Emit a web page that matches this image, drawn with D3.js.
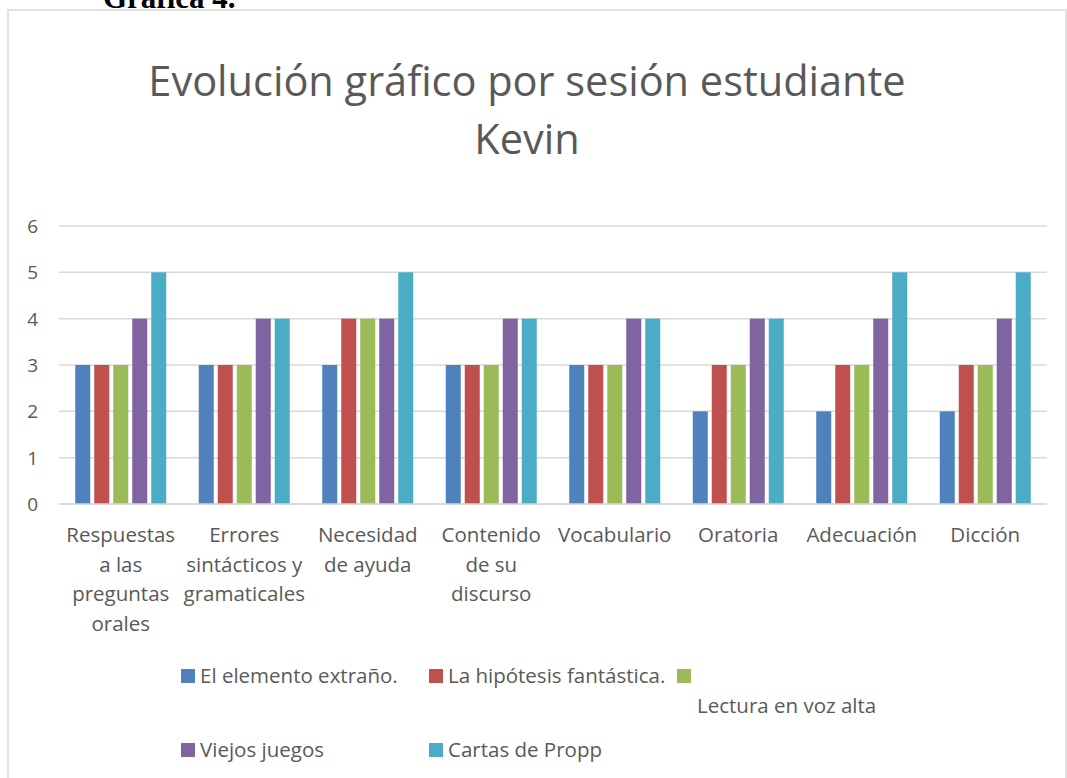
<!DOCTYPE html>
<html>
<head>
<meta charset="utf-8">
<script src="https://cdn.jsdelivr.net/npm/d3@7"></script>
<style>
  html, body { margin: 0; padding: 0; background: #fff; }
  svg { display: block; }
</style>
</head>
<body>
<svg id="chart" width="1067" height="778"></svg>
<script>
// ---- data ----
const categories = [
  "Respuestas a las preguntas orales",
  "Errores sintácticos y gramaticales",
  "Necesidad de ayuda",
  "Contenido de su discurso",
  "Vocabulario",
  "Oratoria",
  "Adecuación",
  "Dicción"
];
const categoryLines = [
  ["Respuestas", "a las", "preguntas", "orales"],
  ["Errores", "sintácticos y", "gramaticales"],
  ["Necesidad", "de ayuda"],
  ["Contenido", "de su", "discurso"],
  ["Vocabulario"],
  ["Oratoria"],
  ["Adecuación"],
  ["Dicción"]
];
const seriesNames = [
  "El elemento extraño.",
  "La hipótesis fantástica.",
  "Lectura en voz alta",
  "Viejos juegos",
  "Cartas de Propp"
];
const elementoExtrano   = [3, 3, 3, 3, 3, 2, 2, 2];
const hipotesisFantast  = [3, 3, 4, 3, 3, 3, 3, 3];
const lecturaVozAlta    = [3, 3, 4, 3, 3, 3, 3, 3];
const viejosJuegos      = [4, 4, 4, 4, 4, 4, 4, 4];
const cartasPropp       = [5, 4, 5, 4, 4, 4, 5, 5];
const yTicks = [0, 1, 2, 3, 4, 5, 6];
const titleLines = ["Evolución gráfico por sesión estudiante", "Kevin"];
const headingText = "Gráfica 4.";

const seriesValues = [elementoExtrano, hipotesisFantast, lecturaVozAlta, viejosJuegos, cartasPropp];
const colors = ["#4F81BD", "#C0504D", "#9BBB59", "#8064A2", "#4BACC6"];

// ---- layout ----
const svg = d3.select("#chart");
const font = "'Open Sans', 'Noto Sans', sans-serif";
const textColor = "#595959";
const gridColor = "#d9d9d9";

const plot = { left: 59, right: 1047, top: 226, bottom: 504 };

// heading (cut off at top, as in the source document)
svg.append("text")
  .attr("x", 103).attr("y", 8)
  .attr("font-family", "'Liberation Serif', 'Times New Roman', serif")
  .attr("font-weight", "bold")
  .attr("font-size", 31)
  .attr("fill", "#000")
  .text(headingText);

// chart border
svg.append("rect")
  .attr("x", 8).attr("y", 10)
  .attr("width", 1058).attr("height", 790)
  .attr("fill", "none")
  .attr("stroke", gridColor)
  .attr("stroke-width", 1.5);

// title
svg.append("g").selectAll("text")
  .data(titleLines)
  .join("text")
  .attr("x", 527)
  .attr("y", (d, i) => 96 + i * 58)
  .attr("text-anchor", "middle")
  .attr("font-family", font)
  .attr("font-size", 41.5)
  .attr("fill", textColor)
  .text(d => d);

// scales
const x0 = d3.scaleBand()
  .domain(categories)
  .range([plot.left, plot.right])
  .padding(0);

const x1 = d3.scaleBand()
  .domain(seriesNames)
  .range([0, x0.bandwidth()])
  .paddingInner(0.21)
  .paddingOuter(0.855);

const y = d3.scaleLinear()
  .domain([0, 6])
  .range([plot.bottom, plot.top]);

// gridlines
svg.append("g")
  .selectAll("line")
  .data(yTicks)
  .join("line")
  .attr("x1", plot.left).attr("x2", plot.right)
  .attr("y1", d => y(d)).attr("y2", d => y(d))
  .attr("stroke", gridColor)
  .attr("stroke-width", 1.5);

// y axis labels
const yAxis = d3.axisLeft(y).tickValues(yTicks).tickSize(0).tickPadding(0).tickFormat(d3.format("d"));
const yg = svg.append("g")
  .attr("transform", `translate(${plot.left - 21},0)`)
  .call(yAxis);
yg.select(".domain").remove();
yg.selectAll("text")
  .attr("font-family", font)
  .attr("font-size", 19)
  .attr("fill", textColor)
  .attr("dy", "0.35em");

// bars
const rows = categories.map((c, ci) => ({
  cat: c,
  vals: seriesNames.map((s, si) => ({ series: s, si, value: seriesValues[si][ci] }))
}));

svg.append("g")
  .selectAll("g")
  .data(rows)
  .join("g")
  .attr("transform", d => `translate(${x0(d.cat)},0)`)
  .selectAll("rect")
  .data(d => d.vals)
  .join("rect")
  .attr("x", d => x1(d.series))
  .attr("width", x1.bandwidth())
  .attr("y", d => y(d.value))
  .attr("height", d => y(0) - y(d.value))
  .attr("fill", d => colors[d.si]);

// x axis line
svg.append("line")
  .attr("x1", plot.left).attr("x2", plot.right)
  .attr("y1", y(0)).attr("y2", y(0))
  .attr("stroke", gridColor)
  .attr("stroke-width", 1.5);

// category labels
const xl = svg.append("g");
categories.forEach((c, ci) => {
  const cx = x0(c) + x0.bandwidth() / 2;
  xl.append("text")
    .attr("text-anchor", "middle")
    .attr("font-family", font)
    .attr("font-size", 20.5)
    .attr("fill", textColor)
    .selectAll("tspan")
    .data(categoryLines[ci])
    .join("tspan")
    .attr("x", cx)
    .attr("y", (d, i) => 542 + i * 29.5)
    .text(d => d);
});

// legend
const legendItems = [
  { si: 0, sx: 181, sy: 676, tx: 200, ty: 676 },
  { si: 1, sx: 429, sy: 676, tx: 448, ty: 676 },
  { si: 2, sx: 677, sy: 676, tx: 697, ty: 706 },
  { si: 3, sx: 181, sy: 750, tx: 200, ty: 750 },
  { si: 4, sx: 429, sy: 750, tx: 448, ty: 750 }
];
const lg = svg.append("g");
legendItems.forEach(it => {
  lg.append("rect")
    .attr("x", it.sx).attr("y", it.sy - 7)
    .attr("width", 14).attr("height", 14)
    .attr("fill", colors[it.si]);
  lg.append("text")
    .attr("x", it.tx).attr("y", it.ty)
    .attr("dy", "0.35em")
    .attr("font-family", font)
    .attr("font-size", 20.5)
    .attr("fill", textColor)
    .text(seriesNames[it.si]);
});
</script>
</body>
</html>
